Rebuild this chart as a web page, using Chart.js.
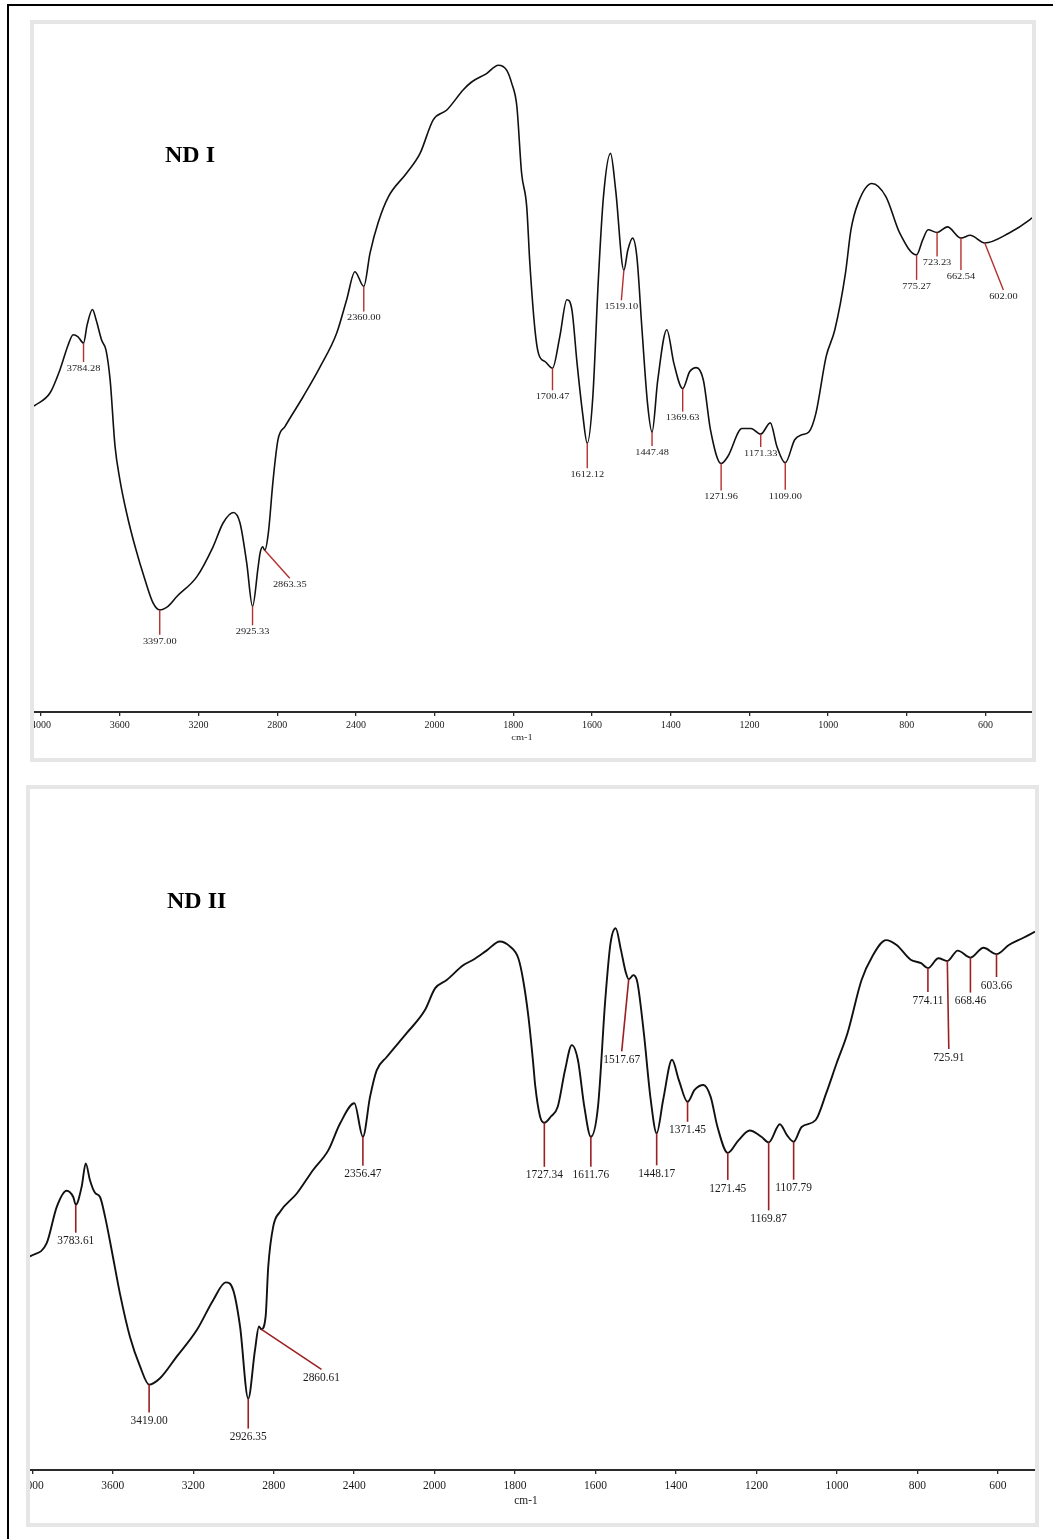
<!DOCTYPE html>
<html>
<head>
<meta charset="utf-8">
<title>FTIR spectra ND I / ND II</title>
<script src="https://cdn.jsdelivr.net/npm/chart.js@4.4.1/dist/chart.umd.min.js"></script>
<style>
  html, body { margin: 0; padding: 0; background: #fff; width: 1053px; height: 1539px; overflow: hidden; }
  #sheet { position: absolute; left: 7px; top: 4px; width: 1100px; height: 1600px; border-left: 2px solid #000; border-top: 2px solid #000; }
  .frame { position: absolute; box-sizing: border-box; border: 4px solid #e6e6e6; }
  #frame1 { left: 30px; top: 20px; width: 1006px; height: 742px; }
  #frame2 { left: 26px; top: 785px; width: 1013px; height: 742px; }
  canvas { position: absolute; }
  #nd1 { left: 34px; top: 12px; }
  #nd2 { left: 30px; top: 770px; }
</style>
</head>
<body>
<div id="sheet"></div>
<div class="frame" id="frame1"></div>
<div class="frame" id="frame2"></div>
<canvas id="nd1" width="998" height="740"></canvas>
<canvas id="nd2" width="1005" height="740"></canvas>
<script>
// Wavenumber axis ticks (cm-1); spacing changes from 400 to 200 per division at 2000
const TICK_VALUES = [4000, 3600, 3200, 2800, 2400, 2000, 1800, 1600, 1400, 1200, 1000, 800, 600];
const AXIS_UNIT = 'cm-1';

// ND I spectrum: wavenumber (cm-1) and transmittance (arbitrary %)
const ND1_WAVENUMBER = [
  4036, 3954, 3904, 3863, 3837, 3812, 3784.28, 3766, 3739, 3720,
  3692, 3670, 3649, 3624, 3599, 3565, 3522, 3472, 3431, 3397.00,
  3355, 3310, 3209, 3126, 3075, 3023, 2989, 2955, 2925.33, 2897,
  2887, 2874, 2863.35, 2845, 2821, 2796, 2760, 2669, 2582, 2498,
  2447, 2405, 2360.00, 2328, 2286, 2235, 2142, 2074, 2007, 1969,
  1927, 1906, 1868, 1838, 1817, 1804, 1791, 1779, 1766, 1758,
  1745, 1736, 1718, 1700.47, 1682, 1664, 1651, 1638, 1624, 1612.12,
  1598, 1584, 1571, 1553, 1540, 1519.10, 1509, 1497, 1486, 1473,
  1459, 1447.48, 1433, 1410, 1392, 1369.63, 1352, 1335, 1317, 1299,
  1271.96, 1255, 1219, 1196, 1171.33, 1147, 1130, 1109.00, 1085, 1067,
  1049, 1031, 1005, 983, 956, 942, 924, 889, 853, 818,
  775.27, 760, 746, 723.23, 697, 662.54, 639, 602.00, 541, 488,
  482
];
const ND1_SIGNAL = [
  43.7, 45.6, 48.9, 52.4, 53.9, 53.6, 52.7, 55.3, 57.5, 56.0,
  53.1, 51.7, 47.4, 37.9, 33.1, 28.4, 23.6, 18.9, 15.6, 14.6,
  15.1, 16.5, 19.3, 23.6, 27.0, 28.5, 27.0, 21.3, 15.1, 20.7,
  22.7, 23.6, 23.1, 25.6, 33.1, 38.9, 40.8, 45.0, 49.3, 54.1,
  58.9, 62.9, 60.8, 65.6, 70.0, 73.6, 77.0, 79.8, 84.6, 86.0,
  88.9, 90.0, 91.2, 92.4, 91.7, 89.8, 86.5, 77.0, 72.2, 64.1,
  54.6, 51.2, 50.0, 49.1, 53.6, 58.9, 57.4, 49.8, 42.7, 38.4,
  45.0, 61.7, 73.6, 79.8, 74.6, 63.1, 66.0, 67.7, 65.0, 54.6,
  44.1, 40.0, 47.4, 54.6, 49.8, 46.2, 48.6, 49.2, 47.4, 40.3,
  35.5, 36.5, 40.5, 40.5, 39.7, 41.3, 37.9, 35.6, 38.9, 39.6,
  40.0, 42.7, 50.8, 54.6, 62.7, 68.9, 72.7, 75.5, 73.6, 68.4,
  65.3, 67.4, 68.9, 68.5, 69.3, 67.7, 68.1, 67.0, 68.4, 70.3,
  70.6
];
const ND1_PEAKS = [3784.28, 3397.00, 2925.33, 2863.35, 2360.00, 1700.47, 1612.12, 1519.10, 1447.48,
                   1369.63, 1271.96, 1171.33, 1109.00, 775.27, 723.23, 662.54, 602.00];

// ND II spectrum
const ND2_WAVENUMBER = [
  4011, 3928, 3878, 3829, 3796, 3783.61, 3754, 3734, 3713, 3688,
  3663, 3638, 3605, 3564, 3514, 3464, 3419.00, 3365, 3282, 3182,
  3100, 3038, 3001, 2967, 2926.35, 2893, 2873, 2860.61, 2840, 2827,
  2802, 2768, 2685, 2603, 2528, 2470, 2399, 2356.47, 2321, 2288,
  2238, 2139, 2048, 1999, 1970, 1929, 1904, 1871, 1838, 1813,
  1792, 1780, 1767, 1755, 1750, 1738, 1727.34, 1711, 1694, 1676,
  1659, 1644, 1628, 1611.76, 1594, 1576, 1563, 1550, 1537, 1525,
  1517.67, 1506, 1498, 1493, 1480, 1463, 1448.17, 1432, 1410, 1393,
  1371.45, 1354, 1332, 1314, 1297, 1271.45, 1245, 1217, 1188, 1169.87,
  1142, 1124, 1107.79, 1088, 1053, 1027, 1001, 974, 939, 913,
  878, 852, 817, 791, 774.11, 748, 725.91, 700, 668.46, 636,
  603.66, 573, 538, 508
];
const ND2_SIGNAL = [
  30.5, 32.4, 37.6, 39.9, 39.0, 37.9, 40.5, 43.8, 41.4, 39.6,
  39.0, 36.2, 31.4, 25.2, 19.0, 14.8, 12.2, 13.1, 16.2, 20.0,
  24.3, 26.8, 25.7, 20.5, 10.2, 17.1, 20.5, 20.1, 21.9, 29.0,
  34.8, 36.9, 39.5, 42.9, 45.7, 49.5, 52.4, 47.6, 53.3, 57.1,
  59.0, 62.4, 65.7, 68.8, 70.0, 72.1, 72.9, 74.2, 75.5, 74.8,
  73.1, 70.0, 64.8, 58.1, 54.9, 50.5, 49.6, 50.5, 51.9, 57.1,
  60.7, 58.6, 51.9, 47.6, 51.9, 67.1, 75.2, 77.4, 74.3, 71.1,
  70.1, 70.7, 70.1, 68.6, 62.4, 52.9, 48.1, 52.9, 58.6, 55.7,
  52.6, 54.3, 55.0, 53.3, 49.0, 45.3, 47.1, 48.5, 47.6, 46.8,
  49.4, 47.8, 46.9, 49.0, 50.0, 53.8, 58.1, 62.4, 70.0, 73.3,
  75.7, 75.0, 72.9, 72.4, 71.7, 73.1, 72.7, 74.2, 73.2, 74.6,
  73.7, 75.0, 76.0, 76.9
];
const ND2_PEAKS = [3783.61, 3419.00, 2926.35, 2860.61, 2356.47, 1727.34, 1611.76, 1517.67, 1448.17,
                   1371.45, 1271.45, 1169.87, 1107.79, 774.11, 725.91, 668.46, 603.66];

// Leader line geometry for the peak labels, in pixels [dx, dy] from the curve
const ND1_LEADS = [[0,19],[0,25],[0,19],[25,28],[0,25],[0,22],[0,25],[-2.5,30],[0,14],
                   [0,23],[0,27],[0,13],[0,27],[0,25],[0,24],[0,32],[18.6,47]];
const ND2_LEADS = [[0,28],[0,28],[0,30],[60,40],[0,29],[0,44],[0,30],[-7,72],[0,32],
                   [0,20],[0,27],[0,68],[0,38],[0,24],[1.5,88],[0,35],[0,23]];

// Split wavenumber scale: 400 cm-1 per division above 2000, 200 cm-1 per division below
const SPLIT = 2000;
function divisionOf(v) { return v >= SPLIT ? (4000 - v) / 400 : 5 + (SPLIT - v) / 200; }
function valueOfDivision(u) { return u <= 5 ? 4000 - u * 400 : SPLIT - (u - 5) * 200; }

class WavenumberScale extends Chart.LinearScale {
  buildTicks() {
    return TICK_VALUES.filter(v => v >= this.min && v <= this.max).map(v => ({ value: v }));
  }
  getPixelForValue(value) {
    const a = divisionOf(this.max), b = divisionOf(this.min);
    return this.left + (divisionOf(value) - a) / (b - a) * this.width;
  }
  getValueForPixel(pixel) {
    const a = divisionOf(this.max), b = divisionOf(this.min);
    return valueOfDivision(a + (pixel - this.left) / this.width * (b - a));
  }
}
WavenumberScale.id = 'wavenumber';
Chart.register(WavenumberScale);

function signalAt(wn, sig, w) {
  for (let i = 0; i < wn.length - 1; i++) {
    const a = wn[i], b = wn[i + 1];
    if (w <= a && w >= b) {
      const t = a === b ? 0 : (a - w) / (a - b);
      return sig[i] + t * (sig[i + 1] - sig[i]);
    }
  }
  return NaN;
}

// Peak leaders, peak labels, sample name and axis unit
function makePeakMarks(cfg) {
  return {
    id: 'peakMarks',
    afterDraw(chart) {
      const { ctx } = chart;
      const x = chart.scales.x, y = chart.scales.y;
      ctx.save();
      cfg.peaks.forEach((w, i) => {
        const px = x.getPixelForValue(w);
        const py = y.getPixelForValue(signalAt(cfg.wavenumber, cfg.signal, w));
        const [dx, dy] = cfg.leads[i];
        ctx.strokeStyle = cfg.leadColor;
        ctx.lineWidth = cfg.leadWidth;
        ctx.beginPath();
        ctx.moveTo(px, py);
        ctx.lineTo(px + dx, py + dy);
        ctx.stroke();
        ctx.save();
        ctx.translate(px + dx, py + dy + cfg.labelGap);
        ctx.scale(cfg.labelStretch, 1);
        ctx.font = cfg.labelFont;
        ctx.fillStyle = cfg.labelColor;
        ctx.textAlign = 'center';
        ctx.textBaseline = 'middle';
        ctx.fillText(w.toFixed(2), 0, 0);
        ctx.restore();
      });
      ctx.font = cfg.nameFont;
      ctx.fillStyle = '#000';
      ctx.textAlign = 'left';
      ctx.textBaseline = 'alphabetic';
      ctx.fillText(cfg.name, cfg.namePos[0], cfg.namePos[1]);
      ctx.save();
      ctx.translate(cfg.unitPos[0], cfg.unitPos[1]);
      ctx.scale(cfg.labelStretch, 1);
      ctx.font = cfg.unitFont;
      ctx.fillStyle = '#1a1a1a';
      ctx.textAlign = 'center';
      ctx.textBaseline = 'middle';
      ctx.fillText(AXIS_UNIT, 0, 0);
      ctx.restore();
      ctx.restore();
    }
  };
}

function drawSpectrum(canvasId, wn, sig, peaks, leads, look) {
  new Chart(document.getElementById(canvasId), {
    type: 'line',
    data: {
      datasets: [{
        data: wn.map((w, i) => ({ x: w, y: sig[i] })),
        borderColor: '#111',
        borderWidth: look.lineWidth,
        pointRadius: 0,
        cubicInterpolationMode: 'monotone',
        fill: false
      }]
    },
    options: {
      responsive: false,
      animation: false,
      devicePixelRatio: 1,
      events: [],
      layout: { padding: 0 },
      plugins: { legend: { display: false }, tooltip: { enabled: false }, title: { display: false } },
      scales: {
        x: {
          type: 'wavenumber',
          min: look.range[0],
          max: look.range[1],
          afterFit(s) { s.height = 40; s.paddingLeft = 0; s.paddingRight = 0; },
          border: { display: true, color: '#2b2b2b', width: 2 },
          grid: { drawOnChartArea: false, drawTicks: true, tickLength: 4, color: '#2b2b2b', lineWidth: 1.3 },
          ticks: {
            autoSkip: false, maxRotation: 0, minRotation: 0,
            padding: look.tickPad, color: '#1a1a1a',
            font: { family: '"Liberation Serif", "DejaVu Serif", serif', size: look.tickSize },
            callback: v => String(v)
          }
        },
        y: { display: false, min: 0, max: 100 }
      }
    },
    plugins: [makePeakMarks({
      wavenumber: wn, signal: sig, peaks: peaks, leads: leads,
      leadColor: look.leadColor, leadWidth: look.leadWidth,
      labelGap: look.labelGap, labelStretch: look.labelStretch,
      labelFont: look.labelFont, labelColor: '#1a1a1a',
      name: look.name, nameFont: 'bold 24px "Liberation Serif", serif', namePos: look.namePos,
      unitFont: look.unitFont, unitPos: look.unitPos
    })]
  });
}

drawSpectrum('nd1', ND1_WAVENUMBER, ND1_SIGNAL, ND1_PEAKS, ND1_LEADS, {
  range: [482, 4036], lineWidth: 1.6, tickPad: 3, tickSize: 10,
  leadColor: '#b3302f', leadWidth: 1.4, labelGap: 6.5, labelStretch: 1.15,
  labelFont: '9px "Liberation Serif", serif',
  name: 'ND I', namePos: [131, 149.5],
  unitFont: '9px "Liberation Serif", serif', unitPos: [488, 726]
});

drawSpectrum('nd2', ND2_WAVENUMBER, ND2_SIGNAL, ND2_PEAKS, ND2_LEADS, {
  range: [508, 4011], lineWidth: 1.9, tickPad: 5, tickSize: 11.5,
  leadColor: '#9c1f22', leadWidth: 1.6, labelGap: 8.5, labelStretch: 0.95,
  labelFont: '12px "Liberation Serif", serif',
  name: 'ND II', namePos: [137, 138],
  unitFont: '12px "Liberation Serif", serif', unitPos: [496, 731]
});
</script>
</body>
</html>
